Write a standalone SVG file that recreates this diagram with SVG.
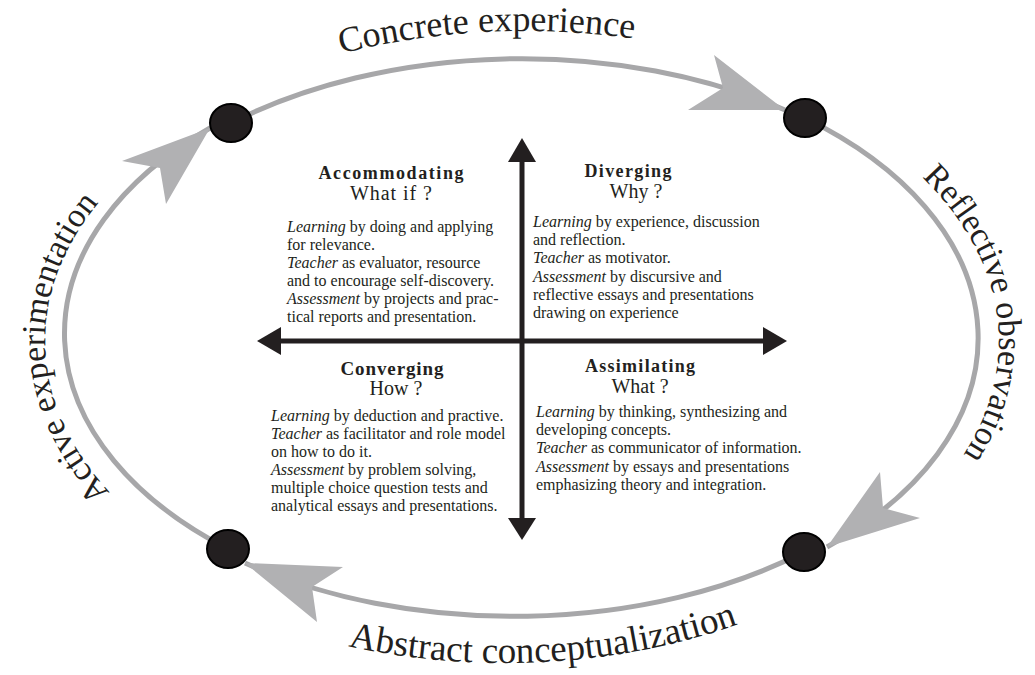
<svg xmlns="http://www.w3.org/2000/svg" width="1035" height="675" viewBox="0 0 1035 675">
<style>
.track{fill:none;stroke:#a7a7a9;stroke-width:5}
.ah{fill:#b1b1b3}
.dot{fill:#231f20;stroke:#000;stroke-width:2}
.axis{stroke:#231f20;stroke-width:5}
.axh{fill:#231f20}
text{font-family:"Liberation Serif","Times New Roman",serif;fill:#231f20}
.b{font-size:16px}
.i{font-style:italic}
.h{font-size:18px;font-weight:bold;text-anchor:middle}
.q{font-size:20px;text-anchor:middle}
.lbl{font-size:36px;text-anchor:middle}
.lbs{font-size:34px;text-anchor:middle}
</style>
<defs>
<path id="pTop" d="M35,341 A490 310 0 0 1 1015,341"/>
<path id="pBot" d="M15,341 A490 322 0 0 0 995,341"/>
<path id="pLeft" d="M522,642 A477 301 0 0 1 522,40"/>
<path id="pRight" d="M522,40 A477 301 0 0 1 522,642"/>
</defs>
<rect width="1035" height="675" fill="#fff"/>

<g id="connectors">
<path class="track" d="M231,123 A457 281 0 0 1 785,110"/>
<path class="track" d="M805,118 A457 281 0 0 1 827,547"/>
<path class="track" d="M804,552 A457 281 0 0 1 245,563"/>
<path class="track" d="M228,549 A457 281 0 0 1 210,128"/>
<polygon class="ah" points="785,110 714,55 723,88 688,110"/>
<polygon class="ah" points="827,547 880,472 883,508 920,518"/>
<polygon class="ah" points="245,563 343,567 312,587 317,622"/>
<polygon class="ah" points="210,128 122,161 160,168 166,204"/>
<line class="axis" x1="522" y1="158" x2="522" y2="520"/>
<line class="axis" x1="277" y1="341" x2="767" y2="341"/>
<polygon class="axh" points="522,138 508,162 536,162"/>
<polygon class="axh" points="522,540 508,518 536,518"/>
<polygon class="axh" points="257,341 281,327 281,355"/>
<polygon class="axh" points="787,341 763,327 763,355"/>
</g>

<g id="dot-tl"><ellipse class="dot" cx="231" cy="123" rx="21" ry="19"/></g>
<g id="dot-tr"><ellipse class="dot" cx="805" cy="118" rx="21" ry="19"/></g>
<g id="dot-bl"><ellipse class="dot" cx="228" cy="549" rx="21" ry="19"/></g>
<g id="dot-br"><ellipse class="dot" cx="804" cy="552" rx="21" ry="19"/></g>

<g id="label-concrete"><text class="lbl"><textPath href="#pTop" startOffset="598">Concrete experience</textPath></text></g>
<g id="label-reflective"><text class="lbs"><textPath href="#pRight" startOffset="586">Reflective observation</textPath></text></g>
<g id="label-abstract"><text class="lbl" style="font-size:37px"><textPath href="#pBot" startOffset="684">Abstract conceptualization</textPath></text></g>
<g id="label-active"><text class="lbs"><textPath href="#pLeft" startOffset="610">Active experimentation</textPath></text></g>

<g id="accommodating">
<text class="h" x="391" y="178.5" textLength="145" lengthAdjust="spacing">Accommodating</text>
<text class="q" x="391" y="199.5" textLength="82" lengthAdjust="spacing">What if ?</text>
<text class="b" x="287" y="231.5"><tspan class="i">Learning</tspan> by doing and applying</text>
<text class="b" x="287" y="249.6">for relevance.</text>
<text class="b" x="287" y="267.7"><tspan class="i">Teacher</tspan> as evaluator, resource</text>
<text class="b" x="287" y="285.8">and to encourage self-discovery.</text>
<text class="b" x="287" y="304"><tspan class="i">Assessment</tspan> by projects and prac-</text>
<text class="b" x="287" y="322">tical reports and presentation.</text>
</g>

<g id="diverging">
<text class="h" x="628" y="177" textLength="87" lengthAdjust="spacing">Diverging</text>
<text class="q" x="636" y="198">Why ?</text>
<text class="b" x="533" y="227"><tspan class="i">Learning</tspan> by experience, discussion</text>
<text class="b" x="533" y="245">and reflection.</text>
<text class="b" x="533" y="263"><tspan class="i">Teacher</tspan> as motivator.</text>
<text class="b" x="533" y="282"><tspan class="i">Assessment</tspan> by discursive and</text>
<text class="b" x="533" y="300">reflective essays and presentations</text>
<text class="b" x="533" y="318">drawing on experience</text>
</g>

<g id="converging">
<text class="h" x="392" y="375" style="font-size:19px" textLength="103" lengthAdjust="spacing">Converging</text>
<text class="q" x="396" y="395">How ?</text>
<text class="b" x="271" y="421"><tspan class="i">Learning</tspan> by deduction and practive.</text>
<text class="b" x="271" y="439"><tspan class="i">Teacher</tspan> as facilitator and role model</text>
<text class="b" x="271" y="457">on how to do it.</text>
<text class="b" x="271" y="475"><tspan class="i">Assessment</tspan> by problem solving,</text>
<text class="b" x="271" y="493">multiple choice question tests and</text>
<text class="b" x="271" y="511">analytical essays and presentations.</text>
</g>

<g id="assimilating">
<text class="h" x="640" y="372" textLength="110" lengthAdjust="spacing">Assimilating</text>
<text class="q" x="640" y="393">What ?</text>
<text class="b" x="536" y="417"><tspan class="i">Learning</tspan> by thinking, synthesizing and</text>
<text class="b" x="536" y="435">developing concepts.</text>
<text class="b" x="536" y="453"><tspan class="i">Teacher</tspan> as communicator of information.</text>
<text class="b" x="536" y="472"><tspan class="i">Assessment</tspan> by essays and presentations</text>
<text class="b" x="536" y="490">emphasizing theory and integration.</text>
</g>
</svg>
